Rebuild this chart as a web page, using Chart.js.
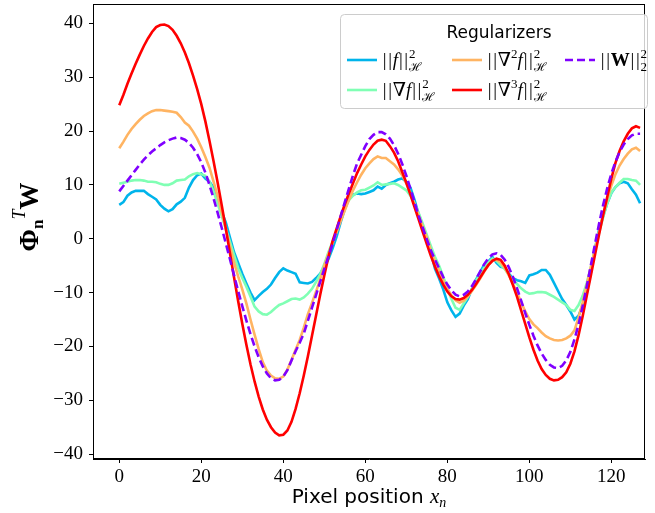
<!DOCTYPE html>
<html lang="en">
<head>
<meta charset="UTF-8">
<title>Regularizers</title>
<script src="https://cdn.jsdelivr.net/npm/chart.js"></script>
<style>
  body { margin: 0; background: #fff; }
  #wrap { width: 655px; height: 513px; }
</style>
</head>
<body>
<div id="wrap"><canvas id="myChart" width="655" height="513"></canvas></div>
<script>
// pixel index 0..127
const pixelPositions = Array.from({length: 128}, (_, i) => i);

// ||f||_H^2
const normF = [
  6.3, 6.8, 8.0, 8.6, 8.9, 8.9, 8.9, 8.3, 7.8, 7.3,
  6.3, 5.6, 5.1, 5.5, 6.4, 6.9, 7.6, 9.5, 10.9, 11.8,
  12.1, 11.2, 10.6, 9.5, 7.5, 5.0, 3.0, 0.2, -2.5, -4.5,
  -6.5, -8.3, -10.0, -11.4, -10.6, -9.9, -9.3, -8.5, -7.3, -6.2,
  -5.5, -5.9, -6.2, -6.5, -8.1, -8.2, -8.3, -8.0, -7.3, -6.5,
  -5.2, -3.8, -1.8, 0.4, 3.1, 5.5, 7.4, 8.2, 8.4, 8.3,
  8.4, 8.7, 9.0, 9.7, 9.3, 10.0, 10.3, 10.6, 11.0, 11.2,
  10.6, 9.5, 7.2, 4.6, 2.4, 0.2, -2.6, -5.6, -7.4, -9.4,
  -11.8, -13.3, -14.5, -13.9, -12.4, -11.2, -9.3, -7.6, -6.2, -4.8,
  -4.2, -3.4, -4.5, -5.2, -5.4, -6.5, -7.3, -7.7, -7.9, -8.2,
  -6.8, -6.6, -6.3, -5.8, -5.8, -6.7, -8.2, -9.7, -11.2, -12.3,
  -13.5, -15.0, -14.3, -12.4, -10.0, -6.2, -1.8, 1.7, 4.2, 6.6,
  8.5, 9.6, 10.3, 10.6, 10.3, 9.2, 8.2, 6.6
];

// ||grad f||_H^2
const normGradF = [
  10.2, 10.4, 10.6, 10.8, 10.9, 10.9, 10.8, 10.6, 10.6, 10.5,
  10.2, 10.0, 10.0, 10.3, 10.8, 10.9, 11.0, 11.6, 12.0, 12.2,
  12.0, 11.7, 10.6, 8.8, 6.5, 4.2, 1.8, -0.6, -3.1, -5.5,
  -7.3, -8.9, -10.7, -12.6, -13.5, -14.0, -14.1, -13.6, -12.9, -12.3,
  -12.0, -11.6, -11.2, -11.1, -11.3, -10.9, -10.2, -9.3, -8.0, -6.6,
  -4.7, -2.5, -0.6, 1.4, 3.7, 5.8, 7.2, 8.0, 8.6, 9.0,
  9.1, 9.5, 9.9, 10.5, 10.0, 10.1, 10.2, 10.3, 10.0, 9.5,
  9.0, 8.0, 6.6, 4.8, 2.8, 0.7, -1.4, -3.4, -5.0, -7.0,
  -9.3, -11.2, -12.8, -13.2, -12.0, -10.8, -9.3, -7.8, -6.6, -5.4,
  -4.4, -3.7, -4.1, -4.9, -5.6, -6.7, -7.7, -8.4, -9.2, -9.8,
  -10.2, -10.1, -9.9, -9.9, -10.0, -10.4, -10.8, -11.3, -11.8, -12.3,
  -13.2, -13.4, -12.3, -10.6, -8.2, -5.3, -2.1, 1.1, 4.0, 6.6,
  8.6, 9.6, 10.4, 11.1, 11.1, 10.9, 10.8, 10.0
];

// ||grad^2 f||_H^2
const normGrad2F = [
  16.8, 18.0, 19.3, 20.4, 21.3, 22.1, 22.8, 23.3, 23.7, 23.9,
  23.9, 23.8, 23.7, 23.6, 23.4, 22.6, 21.6, 21.0, 19.9, 18.6,
  17.0, 15.2, 13.2, 10.6, 7.9, 4.9, 1.8, -1.4, -4.4, -7.0,
  -9.4, -12.0, -15.0, -17.8, -20.5, -22.9, -24.5, -25.4, -25.9, -26.0,
  -25.6, -24.3, -22.5, -20.6, -18.8, -16.5, -14.0, -11.9, -9.8, -7.5,
  -5.0, -2.8, -0.8, 1.3, 3.3, 5.3, 7.2, 9.0, 10.5, 11.9,
  13.1, 14.0, 14.8, 15.3, 15.0, 15.0, 14.4, 13.8, 12.9, 11.8,
  10.3, 8.4, 6.3, 4.3, 2.2, 0.2, -2.2, -4.2, -6.0, -7.8,
  -9.3, -10.5, -11.4, -11.9, -11.5, -10.7, -9.7, -8.6, -7.4, -6.1,
  -4.9, -4.0, -3.9, -4.4, -5.4, -6.8, -8.4, -10.0, -11.8, -13.5,
  -14.9, -15.9, -16.6, -17.4, -18.1, -18.5, -18.8, -18.9, -18.8, -18.5,
  -18.0, -17.0, -14.6, -11.8, -8.6, -5.2, -1.9, 1.3, 4.5, 7.4,
  9.9, 12.0, 13.6, 14.8, 15.8, 16.6, 16.9, 16.3
];

// ||grad^3 f||_H^2
const normGrad3F = [
  24.8, 26.7, 28.8, 30.7, 32.5, 34.2, 35.8, 37.2, 38.4, 39.3,
  39.7, 39.8, 39.5, 38.8, 37.7, 36.3, 34.6, 32.6, 30.3, 27.8,
  25.0, 21.8, 18.2, 14.4, 10.4, 6.2, 1.8, -2.7, -7.2, -11.6,
  -15.8, -19.7, -23.3, -26.5, -29.3, -31.7, -33.6, -35.0, -36.0, -36.5,
  -36.4, -35.6, -34.0, -31.6, -28.7, -25.4, -21.8, -18.0, -14.2, -10.4,
  -6.8, -3.4, -0.5, 1.9, 4.2, 6.4, 8.4, 10.3, 12.2, 13.8,
  15.3, 16.5, 17.5, 18.2, 18.4, 18.2, 17.2, 16.0, 14.4, 12.4,
  10.4, 8.2, 5.9, 3.6, 1.3, -1.0, -3.2, -5.2, -7.0, -8.5,
  -9.8, -10.7, -11.2, -11.3, -11.0, -10.4, -9.5, -8.4, -7.2, -6.0,
  -4.9, -4.1, -3.7, -3.9, -5.0, -6.6, -8.6, -10.8, -13.3, -15.8,
  -18.3, -20.6, -22.6, -24.2, -25.3, -26.0, -26.3, -26.2, -25.7, -24.8,
  -23.2, -20.9, -17.9, -14.4, -10.6, -6.8, -3.0, 0.8, 4.4, 7.8,
  11.2, 14.1, 16.3, 18.1, 19.5, 20.5, 20.9, 20.6
];

// ||W||_2^2
const normW = [
  8.8, 9.8, 10.8, 11.8, 12.8, 13.8, 14.7, 15.5, 16.2, 16.8,
  17.4, 17.9, 18.3, 18.6, 18.8, 18.7, 18.4, 17.8, 16.9, 15.7,
  14.2, 12.3, 10.0, 7.5, 4.8, 2.0, -0.9, -3.8, -6.8, -9.7,
  -12.5, -15.2, -17.7, -20.0, -22.0, -23.7, -25.0, -25.9, -26.3, -26.2,
  -25.6, -24.4, -22.6, -20.9, -19.3, -17.6, -15.2, -12.8, -10.4, -8.0,
  -5.6, -3.3, -1.0, 1.6, 4.2, 6.8, 9.3, 11.8, 14.0, 15.6,
  17.2, 18.5, 19.3, 19.8, 19.8, 19.4, 18.6, 17.4, 15.8, 13.9,
  11.7, 9.3, 6.8, 4.3, 2.1, -0.1, -2.2, -3.9, -5.5, -7.1,
  -8.5, -9.6, -10.4, -10.7, -10.4, -9.8, -8.8, -7.5, -6.1, -4.7,
  -3.6, -2.9, -2.7, -3.0, -3.9, -5.3, -7.1, -9.2, -11.5, -13.8,
  -16.0, -18.0, -19.8, -21.3, -22.5, -23.4, -23.9, -24.0, -23.6, -22.6,
  -21.0, -18.7, -15.9, -12.5, -8.8, -4.9, -1.0, 2.8, 6.3, 9.4,
  12.1, 14.3, 16.1, 17.5, 18.5, 19.2, 19.5, 19.5
];

const colors = {
  f: '#00b4eb',
  gradF: '#80ffb4',
  grad2F: '#ffb462',
  grad3F: '#ff0000',
  W: '#8000ff'
};

const SERIF = '"Liberation Serif", "DejaVu Serif", serif';
const SANS = '"DejaVu Sans", sans-serif';

function toPoints(vals) {
  return vals.map((v, i) => ({x: pixelPositions[i], y: v}));
}

function tickText(v) {
  if (v === 0) return '0';
  return v < 0 ? '\u2212' + Math.abs(v) : String(v);
}

// draws text made of pieces (sub/superscripts), returns width
function richText(ctx, parts, x, y, draw) {
  let cx = x;
  for (const p of parts) {
    ctx.font = p.font;
    if (p.sup !== undefined) {
      const w1 = ctx.measureText(p.sup).width;
      ctx.font = p.subFont || p.font;
      const w2 = ctx.measureText(p.sub).width;
      if (draw) {
        ctx.font = p.font;
        ctx.fillText(p.sup, cx, y + p.supDy);
        ctx.font = p.subFont || p.font;
        ctx.fillText(p.sub, cx, y + p.subDy);
      }
      cx += Math.max(w1, w2);
    } else {
      const w = p.adv || ctx.measureText(p.t).width;
      if (draw) ctx.fillText(p.t, cx + (p.adv ? (p.adv - ctx.measureText(p.t).width) / 2 : 0), y + (p.dy || 0));
      cx += w;
    }
  }
  return cx - x;
}

// the two thin bars of a norm
function bars() {
  const f = '19px ' + SERIF;
  return [{t: '|', font: f, adv: 5.4}, {t: '|', font: f, adv: 5.4}];
}

function normLabel(inner) {
  return bars().concat(inner, bars(), [
    {sup: '2', sub: '\u210B', font: '13px ' + SERIF, subFont: '12px ' + SERIF, supDy: -8, subDy: 5}
  ]);
}

const legendItems = [
  {col: 0, row: 0, color: colors.f, dash: [], parts: normLabel([{t: 'f', font: 'italic 19px ' + SERIF}])},
  {col: 0, row: 1, color: colors.gradF, dash: [], parts: normLabel([{t: '\u2207', font: '19px ' + SERIF}, {t: 'f', font: 'italic 19px ' + SERIF}])},
  {col: 1, row: 0, color: colors.grad2F, dash: [], parts: normLabel([{t: '\u2207', font: '19px ' + SERIF}, {t: '2', font: '13px ' + SERIF, dy: -8}, {t: 'f', font: 'italic 19px ' + SERIF}])},
  {col: 1, row: 1, color: colors.grad3F, dash: [], parts: normLabel([{t: '\u2207', font: '19px ' + SERIF}, {t: '3', font: '13px ' + SERIF, dy: -8}, {t: 'f', font: 'italic 19px ' + SERIF}])},
  {col: 2, row: 0, color: colors.W, dash: [8, 4], parts: bars().concat([
    {t: 'W', font: 'bold 19px ' + SERIF}], bars(), [
    {sup: '2', sub: '2', font: '13px ' + SERIF, supDy: -8, subDy: 5}
  ])}
];

const extras = {
  id: 'extras',
  afterDraw(chart) {
    const ctx = chart.ctx;
    const a = chart.chartArea;
    ctx.save();
    // axes frame
    ctx.strokeStyle = '#000';
    ctx.lineWidth = 1;
    ctx.strokeRect(a.left + 0.5, a.top + 0.5, a.right - a.left - 1, a.bottom - a.top - 1);

    // legend box
    ctx.fillStyle = 'rgba(255,255,255,0.8)';
    ctx.strokeStyle = '#cccccc';
    ctx.beginPath();
    ctx.roundRect(340.5, 14.5, 307, 94, 4);
    ctx.fill();
    ctx.stroke();
    ctx.fillStyle = '#000';
    ctx.textAlign = 'center';
    ctx.textBaseline = 'alphabetic';
    ctx.font = '17px ' + SANS;
    ctx.fillText('Regularizers', 499, 38);
    ctx.textAlign = 'left';
    const colX = [347, 452, 565];
    const rowY = [60, 90];
    for (const it of legendItems) {
      const x0 = colX[it.col], y0 = rowY[it.row];
      ctx.strokeStyle = it.color;
      ctx.lineWidth = 2.6;
      ctx.setLineDash(it.dash);
      ctx.beginPath();
      ctx.moveTo(x0, y0);
      ctx.lineTo(x0 + 30, y0);
      ctx.stroke();
      ctx.setLineDash([]);
      ctx.fillStyle = '#000';
      richText(ctx, it.parts, x0 + 35, y0 + 6, true);
    }

    // x axis title
    const xParts = [
      {t: 'Pixel position ', font: '20px ' + SANS},
      {t: 'x', font: 'italic 21px ' + SERIF},
      {t: 'n', font: 'italic 14px ' + SERIF, dy: 4}
    ];
    const cx = (a.left + a.right) / 2;
    const wx = richText(ctx, xParts, 0, 0, false);
    richText(ctx, xParts, cx - wx / 2, 503, true);

    // y axis title (rotated)
    const yParts = [
      {t: '\u03A6', font: 'bold 27px ' + SERIF},
      {t: 'n', font: 'bold 17px ' + SERIF, dy: 5},
      {t: 'T', font: 'italic 18px ' + SERIF, dy: -13},
      {t: 'W', font: 'bold 27px ' + SERIF}
    ];
    const wy = richText(ctx, yParts, 0, 0, false);
    ctx.translate(38, 217);
    ctx.rotate(-Math.PI / 2);
    richText(ctx, yParts, -wy / 2, 0, true);
    ctx.restore();
  }
};

const ctx = document.getElementById('myChart').getContext('2d');
new Chart(ctx, {
  type: 'line',
  data: {
    datasets: [
      {label: 'f', data: toPoints(normF), borderColor: colors.f, order: 4},
      {label: 'grad f', data: toPoints(normGradF), borderColor: colors.gradF, order: 3},
      {label: 'grad2 f', data: toPoints(normGrad2F), borderColor: colors.grad2F, order: 2},
      {label: 'grad3 f', data: toPoints(normGrad3F), borderColor: colors.grad3F, order: 1},
      {label: 'W', data: toPoints(normW), borderColor: colors.W, borderDash: [8, 4], order: 0}
    ]
  },
  options: {
    responsive: false,
    animation: false,
    devicePixelRatio: 1,
    layout: {padding: {left: 33, right: 10, top: 4, bottom: 14}},
    elements: {
      line: {borderWidth: 2.6, tension: 0, fill: false, borderCapStyle: 'butt'},
      point: {radius: 0}
    },
    plugins: {legend: {display: false}, tooltip: {enabled: false}},
    scales: {
      x: {
        type: 'linear',
        min: -6.4,
        max: 128.2,
        ticks: {stepSize: 20, includeBounds: false, maxRotation: 0, padding: 3, color: '#000',
                font: {family: SERIF, size: 19}, callback: tickText},
        grid: {drawOnChartArea: false, tickLength: 4, tickColor: '#000'},
        border: {display: true, color: '#000'},
        afterFit: s => { s.height = 40; s.paddingLeft = 0; s.paddingRight = 0; }
      },
      y: {
        min: -40.9,
        max: 43.6,
        ticks: {stepSize: 10, includeBounds: false, padding: 6, color: '#000',
                font: {family: SERIF, size: 19}, callback: tickText},
        grid: {drawOnChartArea: false, tickLength: 4, tickColor: '#000'},
        border: {display: true, color: '#000'},
        afterFit: s => { s.width = 60; s.paddingTop = 0; s.paddingBottom = 0; }
      }
    }
  },
  plugins: [extras]
});
</script>
</body>
</html>
